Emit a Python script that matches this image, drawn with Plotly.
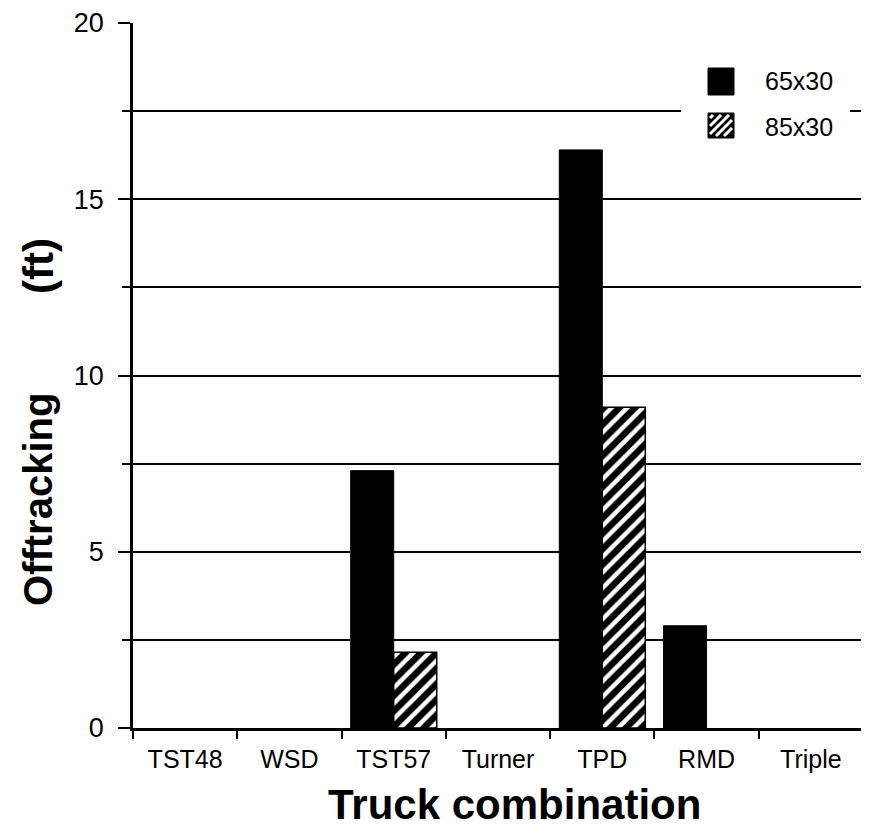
import plotly.graph_objects as go

categories = ["TST48", "WSD", "TST57", "Turner", "TPD", "RMD", "Triple"]
off_65x30 = [None, None, 7.3, None, 16.4, 2.9, None]
off_85x30 = [None, None, 2.15, None, 9.1, None, None]
series_names = ["65x30", "85x30"]
y_ticks = [0, 5, 10, 15, 20]

FONT = "Liberation Sans, Arial, Helvetica, sans-serif"

# page body margin offset (screen px -> figure px)
OFF = 8
# plot-area pixel geometry in screen coords
L, R, T, B = 133, 863, 23, 728
W, H = 869, 833


def px(x):
    return (x - L) / (R - L)


def py(y):
    return (B - y) / (B - T)


fig = go.Figure()
fig.add_bar(x=categories, y=off_65x30, name=series_names[0],
            marker=dict(color="black", line=dict(color="black", width=1)))
fig.add_bar(x=categories, y=off_85x30, name=series_names[1],
            marker=dict(color="white", line=dict(color="black", width=1.5),
                        pattern=dict(shape="/", fgcolor="black", bgcolor="white",
                                     fgopacity=1, fillmode="replace",
                                     size=11, solidity=0.6)))

shapes = []
# white legend backdrop (hides part of 17.5 gridline)
shapes.append(dict(type="rect", xref="paper", yref="paper", layer="above",
                   x0=px(681), x1=px(850), y0=py(150), y1=py(55),
                   fillcolor="white", line=dict(width=0)))
# black legend square
shapes.append(dict(type="rect", xref="paper", yref="paper", layer="above",
                   x0=px(708), x1=px(734), y0=py(95), y1=py(68),
                   fillcolor="black", line=dict(color="black", width=1)))
# hatched legend square
hx0, hx1, hy0, hy1 = 708, 734, 113, 138
shapes.append(dict(type="rect", xref="paper", yref="paper", layer="above",
                   x0=px(hx0), x1=px(hx1), y0=py(hy1), y1=py(hy0),
                   fillcolor="black", line=dict(color="black", width=1)))
sw, sh = hx1 - hx0, hy1 - hy0
for c in range(-sw + 4, sh, 8):
    u0 = max(2, -c + 2)
    u1 = min(sw - 2, sh - c - 2)
    if u1 - u0 > 1:
        shapes.append(dict(type="line", xref="paper", yref="paper", layer="above",
                           x0=px(hx0 + u0), y0=py(hy1 - (u0 + c)),
                           x1=px(hx0 + u1), y1=py(hy1 - (u1 + c)),
                           line=dict(color="white", width=3)))

annotations = [
    dict(text=series_names[0], xref="paper", yref="paper", x=px(763), y=py(81),
         xanchor="left", yanchor="middle", showarrow=False,
         font=dict(family=FONT, size=25, color="black")),
    dict(text=series_names[1], xref="paper", yref="paper", x=px(763), y=py(127),
         xanchor="left", yanchor="middle", showarrow=False,
         font=dict(family=FONT, size=25, color="black")),
    dict(text="<b>Truck combination</b>", xref="paper", yref="paper",
         x=px(515), y=py(804), xanchor="center", yanchor="middle", showarrow=False,
         font=dict(family=FONT, size=42, color="black")),
    dict(text="<b>Offtracking</b>", xref="paper", yref="paper",
         x=px(38), y=py(500), xanchor="center", yanchor="middle",
         textangle=-90, showarrow=False,
         font=dict(family=FONT, size=40, color="black")),
    dict(text="<b>(ft)</b>", xref="paper", yref="paper",
         x=px(38), y=py(266), xanchor="center", yanchor="middle",
         textangle=-90, showarrow=False,
         font=dict(family=FONT, size=42, color="black")),
]

fig.update_layout(
    width=W, height=H,
    margin=dict(l=L - OFF, r=W - (R - OFF), t=T - OFF, b=H - (B - OFF), pad=0,
                autoexpand=False),
    paper_bgcolor="white", plot_bgcolor="white",
    showlegend=False,
    barmode="group", bargap=0.175, bargroupgap=0,
    font=dict(family=FONT, color="black"),
    shapes=shapes, annotations=annotations,
    xaxis=dict(type="category", range=[-0.5, 6.5], showline=True,
               linecolor="black", linewidth=2.5, ticks="outside",
               tickson="boundaries", ticklen=8, tickwidth=2, tickcolor="black",
               tickfont=dict(family=FONT, size=25, color="black"),
               showgrid=False, zeroline=False, ticklabelstandoff=7,
               automargin=False),
    yaxis=dict(range=[0, 20], tickvals=y_ticks, showline=True,
               linecolor="black", linewidth=2.5, ticks="outside",
               ticklen=12, tickwidth=2, tickcolor="black",
               tickfont=dict(family=FONT, size=27, color="black"),
               showgrid=True, gridcolor="black", gridwidth=2, zeroline=False,
               ticklabelstandoff=9, automargin=False,
               minor=dict(dtick=2.5, tick0=0, ticks="outside", ticklen=8,
                          tickwidth=2, tickcolor="black", showgrid=True,
                          gridcolor="black", gridwidth=2)),
)

fig.write_html("out.html")
